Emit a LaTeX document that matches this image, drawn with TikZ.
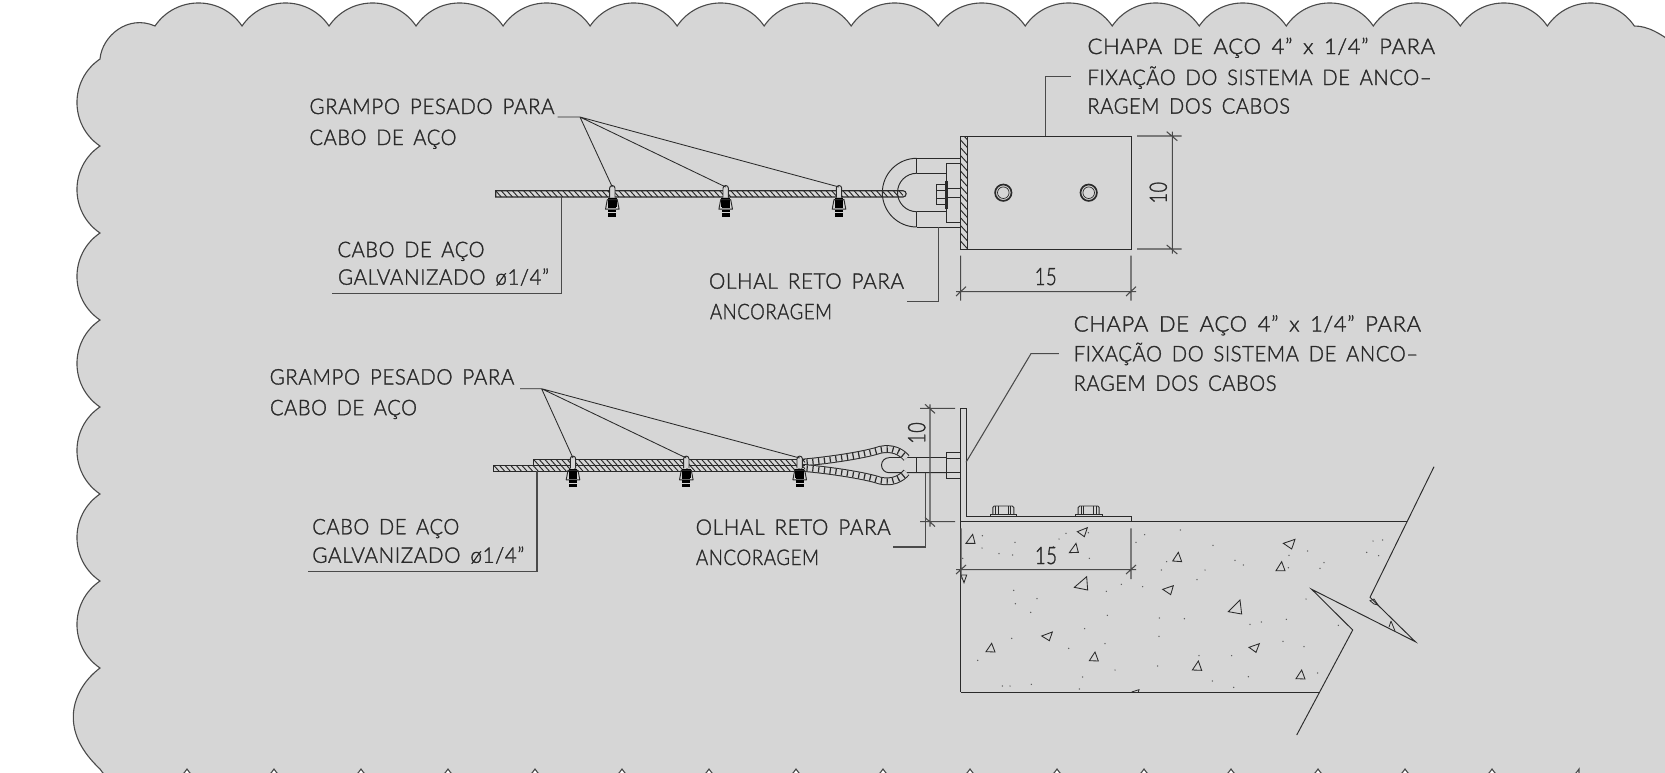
\documentclass[tikz,border=0pt]{standalone}
\usepackage{fontspec}
\usepackage{graphicx}
\setmainfont{Lato Light}[LetterSpace=3,WordSpace=1.6,FakeBold=1.5]
\definecolor{bgg}{HTML}{D6D6D6}
\definecolor{ink}{HTML}{2A2A2A}
\definecolor{dimc}{HTML}{4A4A4A}
\tikzset{
  part/.style={draw=ink,line width=0.95pt},
  thin part/.style={draw=ink,line width=0.8pt},
  dimline/.style={draw=dimc,line width=1.05pt},
  lbl/.style={inner sep=0pt,outer sep=0pt,anchor=base west,text=ink,font=\fontsize{21.5}{24}\selectfont},
  num/.style={inner sep=0pt,outer sep=0pt,text=ink,font=\fontsize{24}{26}\selectfont}
}
% name, x, baseline, width, text
\newcommand\lbltxt[5]{\node[lbl] (#1) at (#2,#3) {\resizebox{#4pt}{\height}{#5}};}
% hatched strip x1 y1 x2 y2 spacing
\newcommand\hatchstrip[5]{%
  \begin{scope}
    \clip (#1,#2) rectangle (#3,#4);
    \pgfmathsetmacro\hh{(#4-#2)*0.9}
    \pgfmathsetmacro\ha{#1-\hh}
    \pgfmathsetmacro\hb{#1-\hh+#5}
    \pgfmathsetmacro\hc{#3+#5}
    \foreach \u in {\ha,\hb,...,\hc}
      \draw[thin part,line width=0.95pt] (\u,#2) -- ++(\hh,#4-#2);
  \end{scope}}
% rope clamp: x, top y
\newcommand\rclamp[2]{%
  \begin{scope}[shift={(#1,#2)}]
    \draw[part,fill=bgg] (-2.7,11) -- (-2.7,1.5) arc[start angle=180,end angle=360,radius=2.7] -- (2.7,11);
    \fill[black] (-4.4,11.5) rectangle (4.4,20.5);
    \draw[part,line join=round] (-5,13) -- (5,13) -- (6.8,22.5) -- (-6.8,22.5) -- cycle;
    \fill[black] (-3.9,14) rectangle (3.9,21.5);
    \fill[black] (-4,23) rectangle (4,29.8);
    \draw[bgg,line width=0.6pt] (-4,25.5) -- (4,25.5);
  \end{scope}}
% foot bolt on angle: x
\newcommand\footbolt[1]{%
  \begin{scope}[shift={(#1,0)}]
    \draw[part] (-13.3,516.7) -- (-13.3,514.6) -- (13.3,514.6) -- (13.3,516.7);
    \draw[part] (-10.5,514.6) -- (-10.5,507.5) -- (-9,506) -- (9,506) -- (10.5,507.5) -- (10.5,514.6);
    \draw[thin part] (-7.5,506) -- (-7.5,514.6) (7.5,506) -- (7.5,514.6);
    \draw[thin part] (-5,506) -- (-5,514.6) (5,506) -- (5,514.6);
  \end{scope}}
\begin{document}
\begin{tikzpicture}[x=1pt,y=-1pt]
\useasboundingbox (0,0) rectangle (1665,772);
\fill[white] (0,0) rectangle (1665,772);
\begin{scope}
\clip (0,0) rectangle (1665,772);
% scalloped background
\draw[fill=bgg,draw=ink!85,line width=1.1pt]
  (100,59) .. controls (102,36) and (128,14) .. (155,26)
  \foreach \i in {1,...,17} { .. controls +(20.9,-30.7) and +(-20.9,-30.7) .. ++(87.02,0) }
  .. controls (1648,26) and (1660,33) .. (1680,48)
  -- (1680,790) -- (1579,790) -- (1579,769)
  \foreach \i in {1,...,17} { .. controls +(-20.9,30.7) and +(20.9,30.7) .. ++(-87,0) }
  .. controls (82,752) and (73.3,735) .. (73.3,717) .. controls (73.3,698) and (84,680) .. (100,668)
  \foreach \i in {1,...,7} { .. controls +(-30.7,-20.9) and +(-30.7,20.9) .. ++(0,-87) }
  -- cycle;
\end{scope}

% ---------- upper detail ----------
% hatched plate and plate outline
\hatchstrip{960.7}{136}{967}{249}{7}
\draw[part] (960.7,136) rectangle (967,249);
\draw[part,line width=1pt] (967,136) -- (1131,136) -- (1131,249) -- (967,249);
\draw[ink,line width=1.7pt] (1003.3,192.7) circle[radius=8.2];
\draw[ink,line width=0.7pt] (1003.3,192.7) circle[radius=5.8];
\draw[ink,line width=1.7pt] (1088.7,192.7) circle[radius=8.2];
\draw[ink,line width=0.7pt] (1088.7,192.7) circle[radius=5.8];
% eye bolt
\draw[part] (916.7,227) arc[start angle=90,end angle=270,radius=34.35];
\draw[part] (916.7,211.7) arc[start angle=90,end angle=270,radius=19.2];
\draw[part] (916.7,158.3) -- (960.7,158.3) (916.7,173.3) -- (946.7,173.3)
            (916.7,211.7) -- (946.7,211.7) (916.7,227) -- (960.7,227)
            (916.7,158.3) -- (916.7,173.3) (916.7,211.7) -- (916.7,227);
\draw[part] (946.7,163.3) rectangle (960.7,222.7);
\draw[part] (945,181) rectangle (947,208);
\draw[part] (936,184) rectangle (945,204);
\draw[thin part] (936,190) -- (945,190) (936,198) -- (945,198);
\draw[part] (945,188.3) -- (960.7,188.3) (945,197.3) -- (960.7,197.3);
% cable
\hatchstrip{495.7}{190.7}{903}{197}{5.6}
\draw[part,line width=1.1pt] (903,190.7) -- (495.7,190.7) -- (495.7,197) -- (903,197) arc[start angle=90,end angle=-90,radius=3.15];
\rclamp{612.3}{186.7}
\rclamp{725.7}{186.7}
\rclamp{839}{186.7}
% dimensions
\draw[dimline] (1137,136) -- (1181.7,136) (1137,249) -- (1181.7,249)
  (1172.3,131.7) -- (1172.3,253.7)
  (1166.7,131.7) -- (1177.3,140.7) (1166.7,245) -- (1177.3,254);
\draw[dimline] (960.7,255.7) -- (960.7,300.7) (1131,255.7) -- (1131,300.7)
  (956,291.7) -- (1136,291.7)
  (956,296) -- (966,286.7) (1126,296) -- (1136,286.7);
\node[num,rotate=90] (d10a) at (1158.3,192.7) {\resizebox{21.5pt}{\height}{10}};
\node[num,anchor=base] (d15a) at (1045.7,285) {\resizebox{22pt}{\height}{15}};
% labels
\lbltxt{t1}{309.5}{114}{245}{GRAMPO PESADO PARA}
\lbltxt{t2}{309.5}{145}{147}{CABO DE AÇO}
\lbltxt{t3}{337.5}{257.1}{147}{CABO DE AÇO}
\lbltxt{t4}{338}{284.7}{211}{GALVANIZADO ø1/4”}
\lbltxt{t5}{709}{288.7}{195}{OLHAL RETO PARA}
\lbltxt{t6}{710}{319.2}{122}{ANCORAGEM}
\lbltxt{t7}{1087.5}{54}{347.5}{CHAPA DE AÇO 4” x 1/4” PARA}
\lbltxt{t8}{1087.5}{85}{344}{FIXAÇÃO DO SISTEMA DE ANCO–}
\lbltxt{t9}{1087.5}{113.6}{202.5}{RAGEM DOS CABOS}
% leaders
\coordinate (a1s) at (557.5,117); \coordinate (a1) at (580,117);
\coordinate (c1a) at (612.3,187); \coordinate (c1b) at (725.7,187); \coordinate (c1c) at (839,187);
\draw[thin part,line width=0.85pt] (a1s) -- (a1) (a1) -- (c1a) (a1) -- (c1b) (a1) -- (c1c);
\coordinate (b1) at (561.7,197); \coordinate (b2) at (561.7,293.7); \coordinate (b3) at (332.4,293.7);
\draw[dimline] (b1) -- (b2) -- (b3);
\coordinate (o1) at (938.7,227); \coordinate (o2) at (938.7,301.7); \coordinate (o3) at (906.7,301.7);
\draw[dimline] (o1) -- (o2) -- (o3);
\coordinate (p1) at (1045.7,136); \coordinate (p2) at (1045.7,76.5); \coordinate (p3) at (1071,76.5);
\draw[dimline] (p1) -- (p2) -- (p3);

% ---------- lower detail ----------
% angle
\draw[part] (966.7,408.3) -- (960.7,408.3) -- (960.7,692);
\draw[part] (966.7,408.3) -- (966.7,516.7) -- (1131.7,516.7) -- (1131.7,521.7);
\draw[part,line width=1.1pt] (960.7,521.7) -- (1406.7,521.7);
\draw[part,line width=1pt] (960.7,692) -- (1319.3,692);
\footbolt{1003.3}
\footbolt{1088.7}
% break line
\draw[part,line join=miter] (1434,466.7) -- (1370,597.3) -- (1415.3,641.7) -- (1311.7,589.3) -- (1352.7,630) -- (1296.7,735);
\draw[thin part] (1370,600.7) -- (1374,599) -- (1378,605) -- (1374,604) -- cycle;
\draw[thin part] (1391,621) -- (1389,627) (1391,621) -- (1395,631);
% concrete aggregate
\begin{scope}[shift={(950,500)},x=0.33333pt,y=-0.33333pt]
  \foreach \a/\b/\c/\d/\e/\f in {
    48/130/68/103/75/130, 382/95/412/83/403/110, 358/158/378/130/385/157,
    373/262/410/230/413/270, 668/183/685/157/695/185, 638/268/670/257/662/284,
    1000/130/1035/118/1025/147, 978/212/995/185/1005/212, 835/335/870/300/875/342,
    275/408/307/396/298/422, 108/455/125/430/135/456, 418/482/435/456/445/483,
    897/442/928/431/918/457, 727/510/745/483/755/511, 1038/536/1055/510/1065/537,
    33/225/50/225/42/248}
    \draw[thin part,line width=0.85pt] (\a,\b) -- (\c,\d) -- (\e,\f) -- cycle;
  \draw[thin part] (545,576) -- (567,569) -- (565,576);
  \foreach \a/\b in {97/107,195/127,96/144,147/161,188/165,38/175,348/100,327/117,310/140,415/98,
    418/175,584/104,558/127,691/90,789/136,650/185,634/210,765/210,741/239,855/181,880/195,
    1073/153,1017/166,1015/203,1122/188,1110/205,1269/123,1298/120,1250/157,1286/167,191/271,
    261/296,196/311,242/337,469/274,514/253,578/260,472/346,628/354,703/356,900/373,934/366,
    1009/358,1165/376,1068/297,404/386,627/409,185/415,356/445,465/431,83/481,999/424,1062/440,
    845/467,747/467,623/498,495/510,398/531,895/530,787/543,851/562,1103/519,157/558,180/558,
    244/553,388/567}
    \fill[ink!80] (\a,\b) circle[radius=2.2];
\end{scope}
% bolt and nut
\draw[part] (889,457.7) arc[start angle=-90,end angle=-270,radius=7.5] -- (946,472.7);
\draw[part] (889,457.7) -- (946,457.7) (916.7,457.7) -- (916.7,472.7);
\draw[part] (946,452.3) rectangle (960.7,478.3);
\draw[thin part] (946,458) -- (960.7,458) (946,472.5) -- (960.7,472.5);
% wire rope loop
\def\loopA{(795,463.2) .. controls (825,461) and (865,455) .. (880,449.8) .. controls (892,447.2) and (901,451.5) .. (906.5,458)}
\def\loopB{(795,467.2) .. controls (825,469.4) and (865,475.4) .. (880,480.6) .. controls (892,483.2) and (901,478.9) .. (906.5,472.4)}
\draw[ink,line width=7.8pt] \loopA;
\draw[bgg,line width=5.8pt] \loopA;
\draw[ink,line width=5.8pt,dash pattern=on 1.2pt off 4.6pt] \loopA;
\draw[ink,line width=7.8pt] \loopB;
\draw[bgg,line width=5.8pt] \loopB;
\draw[ink,line width=5.8pt,dash pattern=on 1.2pt off 4.6pt] \loopB;
% cable strands
\fill[bgg] (493.3,459.7) rectangle (800,471);
\hatchstrip{533.3}{459.7}{805}{465.3}{5.6}
\hatchstrip{493.3}{465.3}{805}{471}{5.6}
\draw[part] (533.3,465.3) -- (533.3,459.7) -- (805,459.7);
\draw[part] (493.3,465.3) -- (805,465.3);
\draw[part] (805,471) -- (493.3,471) -- (493.3,465.3);
\rclamp{573}{457.3}
\rclamp{686.3}{457.3}
\rclamp{799.7}{457.3}
% dimensions
\draw[dimline] (920,408.3) -- (955,408.3) (920,521.7) -- (955,521.7)
  (930,404.3) -- (930,526.5)
  (925,404.3) -- (935,413.3) (925,517.5) -- (935,526.5);
\draw[dimline] (961,528.3) -- (961,579) (1131,528.3) -- (1131,579)
  (956,569.7) -- (1136,569.7)
  (956,574) -- (966,565) (1126,574) -- (1136,565);
\node[num,rotate=90] (d10b) at (916.7,433) {\resizebox{21.5pt}{\height}{10}};
\node[num,anchor=base] (d15b) at (1046,564) {\resizebox{22pt}{\height}{15}};
% labels
\lbltxt{u1}{269.7}{384.5}{244.6}{GRAMPO PESADO PARA}
\lbltxt{u2}{270}{415.2}{147}{CABO DE AÇO}
\lbltxt{u3}{312.3}{534.3}{147}{CABO DE AÇO}
\lbltxt{u4}{312.3}{562.8}{212}{GALVANIZADO ø1/4”}
\lbltxt{u5}{695.7}{534.8}{195}{OLHAL RETO PARA}
\lbltxt{u6}{696}{565}{123}{ANCORAGEM}
\lbltxt{u7}{1073.7}{331.5}{347.3}{CHAPA DE AÇO 4” x 1/4” PARA}
\lbltxt{u8}{1073.7}{361.3}{344.3}{FIXAÇÃO DO SISTEMA DE ANCO–}
\lbltxt{u9}{1073.7}{390.8}{202.8}{RAGEM DOS CABOS}
% leaders
\coordinate (a2s) at (520,388.7); \coordinate (a2) at (541.6,388.7);
\coordinate (c2a) at (573,458); \coordinate (c2b) at (686.3,458); \coordinate (c2c) at (799.7,458);
\draw[thin part,line width=0.85pt] (a2s) -- (a2) (a2) -- (c2a) (a2) -- (c2b) (a2) -- (c2c);
\coordinate (e1) at (537,471); \coordinate (e2) at (537,571.3); \coordinate (e3) at (308,571.3);
\draw[dimline] (e1) -- (e2) -- (e3);
\coordinate (q1) at (925.5,472.7); \coordinate (q2) at (925.5,547); \coordinate (q3) at (893.3,547);
\draw[dimline] (q1) -- (q2) -- (q3);
\coordinate (r1) at (966,462.3); \coordinate (r2) at (1031,353.6); \coordinate (r3) at (1058.8,353.6);
\draw[dimline] (r1) -- (r2) -- (r3);
\end{tikzpicture}
\end{document}
